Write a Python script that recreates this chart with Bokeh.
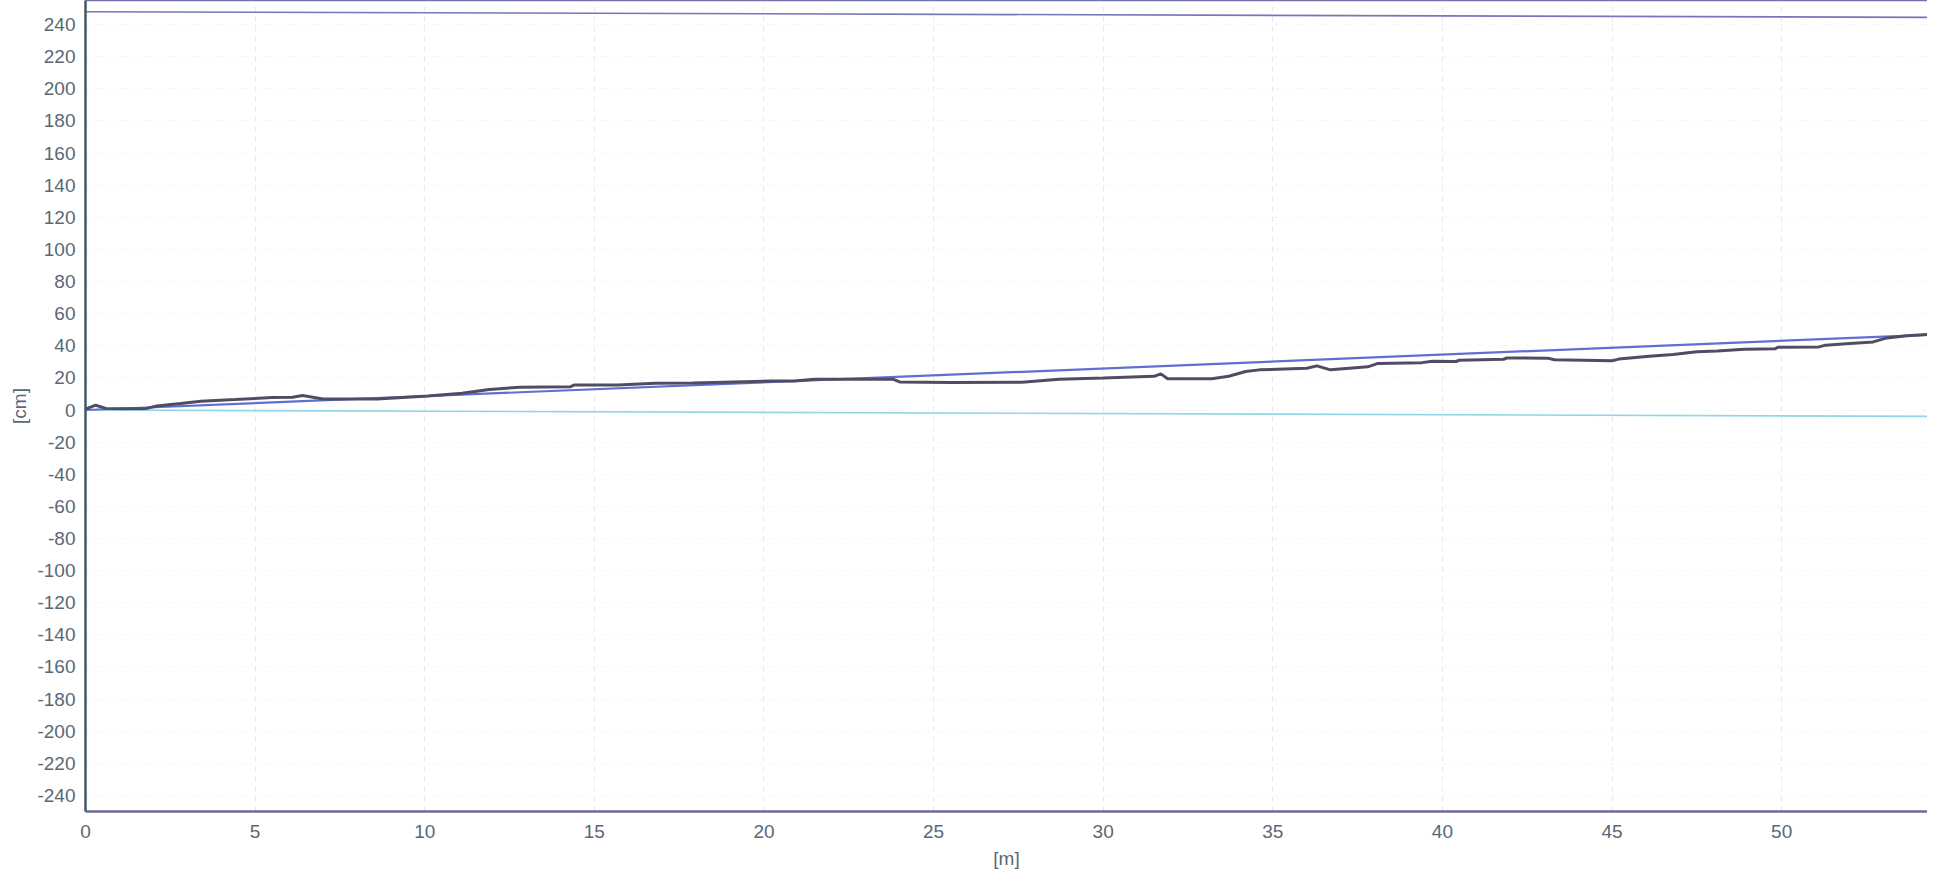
from bokeh.plotting import figure
from bokeh.models import FixedTicker, LinearAxis, Range1d, PrintfTickFormatter
from bokeh.embed import file_html
from bokeh.resources import INLINE

# ---- data ----
dist_m = [0, 0.3, 0.6, 1.0, 1.8, 2.1, 2.8, 3.4, 4.4, 5.5,
          6.1, 6.4, 6.7, 7.0, 8.6, 10.1, 11.1, 11.9, 12.8, 14.3,
          14.4, 15.7, 16.8, 17.9, 20.2, 20.9, 21.5, 23.8, 24.0, 25.5,
          27.6, 28.7, 30.0, 31.5, 31.7, 31.9, 33.2, 33.7, 34.2, 34.6,
          36.0, 36.3, 36.7, 37.8, 38.1, 39.4, 39.7, 40.4, 40.5, 41.8,
          41.9, 43.1, 43.3, 45.0, 45.2, 46.1, 46.8, 47.5, 48.1, 48.9,
          49.8, 49.9, 51.1, 51.3, 51.9, 52.7, 53.1, 53.7, 54.5]
profile_cm = [0.5, 3.0, 1.0, 0.8, 1.0, 2.5, 4.0, 5.5, 6.5, 7.8,
              8.0, 9.0, 8.0, 6.9, 6.9, 8.8, 10.5, 12.8, 14.2, 14.5,
              15.5, 15.5, 16.7, 16.8, 18.0, 18.0, 19.1, 19.2, 17.5, 17.2,
              17.3, 19.2, 20.0, 21.0, 22.5, 19.5, 19.5, 21.0, 24.0, 25.0,
              26.0, 27.5, 25.0, 26.9, 29.0, 29.5, 30.4, 30.2, 31.0, 31.6,
              32.4, 32.3, 31.3, 30.7, 31.7, 33.5, 34.5, 36.3, 36.8, 37.8,
              38.1, 39.1, 39.3, 40.4, 41.3, 42.4, 44.9, 46.3, 47.3]

trend_m = [0, 54.5]
trend_cm = [0, 47]

ref_m = [0, 54.5]
ref_cm = [0, -4]

upper_m = [0, 54.5]
upper_cm = [248, 244.5]

x_ticks = [0, 5, 10, 15, 20, 25, 30, 35, 40, 45, 50]
y_ticks = list(range(-240, 241, 20))

TEXT = "#5a6876"
FONT = "Liberation Sans"

p = figure(width=1927, height=871, output_backend="svg", toolbar_location=None,
           x_range=Range1d(0, 54.3), y_range=Range1d(-250, 255),
           min_border_left=85, min_border_right=0, min_border_top=0,
           min_border_bottom=58, background_fill_color="white",
           border_fill_color="white", outline_line_color=None)

# grid (very faint, as on the scan)
p.xgrid.ticker = FixedTicker(ticks=x_ticks)
p.ygrid.ticker = FixedTicker(ticks=y_ticks)
p.xgrid.grid_line_color = "#e4e8eb"
p.xgrid.grid_line_dash = "5 5"
p.ygrid.grid_line_color = "#f2f4f6"
p.ygrid.grid_line_dash = "5 7"

# axes
xa = p.xaxis[0]
xa.ticker = FixedTicker(ticks=x_ticks)
xa.axis_label = "[m]"
ya = p.yaxis[0]
ya.ticker = FixedTicker(ticks=y_ticks)
ya.axis_label = "[cm]"
for ax in (xa, ya):
    ax.formatter = PrintfTickFormatter(format="%d")
    ax.major_tick_out = 0
    ax.major_tick_in = 0
    ax.minor_tick_out = 0
    ax.minor_tick_in = 0
    ax.major_label_text_font = FONT
    ax.major_label_text_font_size = "19px"
    ax.major_label_text_color = TEXT
    ax.axis_label_text_font = FONT
    ax.axis_label_text_font_size = "19px"
    ax.axis_label_text_font_style = "normal"
    ax.axis_label_text_color = TEXT
xa.major_label_standoff = 13
xa.axis_label_standoff = 7
xa.axis_line_color = "#6c6a96"
xa.axis_line_width = 2.5
ya.major_label_standoff = 10
ya.axis_label_standoff = 4
ya.axis_line_color = "#3f5966"
ya.axis_line_width = 2.5

top = LinearAxis(ticker=FixedTicker(ticks=[]), axis_line_color="#7473b0",
                 axis_line_width=1.5, major_tick_out=0, major_tick_in=0,
                 minor_tick_out=0, minor_tick_in=0)
p.add_layout(top, "above")

# series
p.line(ref_m, ref_cm, line_color="#8fd6e6", line_width=1.6)
p.line(upper_m, upper_cm, line_color="#7677b8", line_width=1.6)
p.line(trend_m, trend_cm, line_color="#5f6fd2", line_width=2.2)
p.line(dist_m, profile_cm, line_color="#504d62", line_width=3)

open("out.html", "w").write(file_html(p, INLINE))
